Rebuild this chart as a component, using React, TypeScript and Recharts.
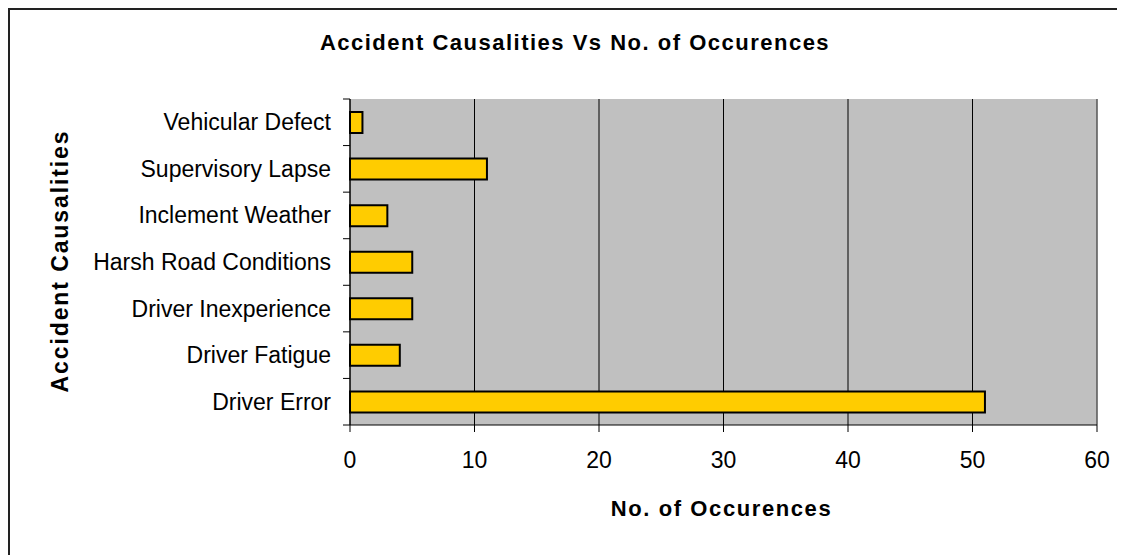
import React from "react"
import { BarChart, Bar, XAxis, YAxis, CartesianGrid, ReferenceLine } from "recharts"

// categories listed bottom to top as in the picture, reversed for the axis
const causes = [
  "Driver Error",
  "Driver Fatigue",
  "Driver Inexperience",
  "Harsh Road Conditions",
  "Inclement Weather",
  "Supervisory Lapse",
  "Vehicular Defect",
]
const occurrences = [51, 4, 5, 5, 3, 11, 1]
const xTicks = [0, 10, 20, 30, 40, 50, 60]

const FONT = "'Liberation Sans', Arial, sans-serif"

const chartData = causes.map((cause, i) => ({ cause, count: occurrences[i] })).reverse()

// category label with Excel-style tick marks between the bands
function CauseTick(props: any) {
  const { x, y, payload, index, visibleTicksCount } = props
  const half = payload?.offset ?? 23.4
  const last = index === (visibleTicksCount ?? chartData.length) - 1
  return (
    <g>
      <line x1={x - 7} x2={x} y1={y - half} y2={y - half} stroke="#000" strokeWidth={1} />
      {last && <line x1={x - 7} x2={x} y1={y + half} y2={y + half} stroke="#000" strokeWidth={1} />}
      <text x={x - 19} y={y} dy={8} textAnchor="end" fontSize={23} fontFamily={FONT} fill="#000">
        {payload.value}
      </text>
    </g>
  )
}

export default function App() {
  return (
    <div
      style={{
        position: "relative",
        width: 1115,
        height: 545,
        overflow: "hidden",
        borderLeft: "2px solid #222",
        borderTop: "2px solid #222",
        background: "#fff",
        fontFamily: FONT,
      }}
    >
      <style>{"body{overflow:hidden}"}</style>
      <div
        style={{
          position: "absolute",
          left: 0,
          width: 1130,
          top: 20,
          textAlign: "center",
          fontSize: 22,
          fontWeight: "bold",
          letterSpacing: 1.5,
          color: "#000",
        }}
      >
        Accident Causalities Vs No. of Occurences
      </div>
      <div
        style={{
          position: "absolute",
          left: 338,
          width: 747,
          top: 486,
          textAlign: "center",
          fontSize: 22,
          fontWeight: "bold",
          letterSpacing: 1.6,
          color: "#000",
        }}
      >
        No. of Occurences
      </div>
      <div
        style={{
          position: "absolute",
          left: 50,
          top: 251,
          width: 0,
          height: 0,
        }}
      >
        <div
          style={{
            position: "absolute",
            transform: "translate(-50%, -50%) rotate(-90deg)",
            whiteSpace: "nowrap",
            fontSize: 23,
            fontWeight: "bold",
            letterSpacing: 1.9,
            color: "#000",
          }}
        >
          Accident Causalities
        </div>
      </div>
      <BarChart
        width={1115}
        height={545}
        data={chartData}
        layout="vertical"
        margin={{ top: 89, right: 28, left: 0, bottom: 0 }}
        barSize={21}
      >
        <CartesianGrid horizontal={false} stroke="#000" fill="#C0C0C0" fillOpacity={1} />
        <XAxis
          type="number"
          domain={[0, 60]}
          ticks={xTicks}
          interval={0}
          height={130}
          axisLine={{ stroke: "#000" }}
          tickLine={{ stroke: "#000" }}
          tickSize={7}
          tickMargin={20}
          tick={{ fontSize: 23, fontFamily: FONT, fill: "#000" }}
        />
        <XAxis xAxisId="top" orientation="top" type="number" domain={[0, 60]} height={0} tick={false} tickLine={false} axisLine={{ stroke: "#808080" }} />
        <YAxis
          type="category"
          dataKey="cause"
          width={340}
          interval={0}
          tickSize={0}
          tickMargin={0}
          tickLine={false}
          axisLine={{ stroke: "#000" }}
          tick={<CauseTick />}
        />
        <ReferenceLine x={60} stroke="#808080" />
        <Bar dataKey="count" fill="#FFCC00" stroke="#000" strokeWidth={2} isAnimationActive={false} />
      </BarChart>
    </div>
  )
}
